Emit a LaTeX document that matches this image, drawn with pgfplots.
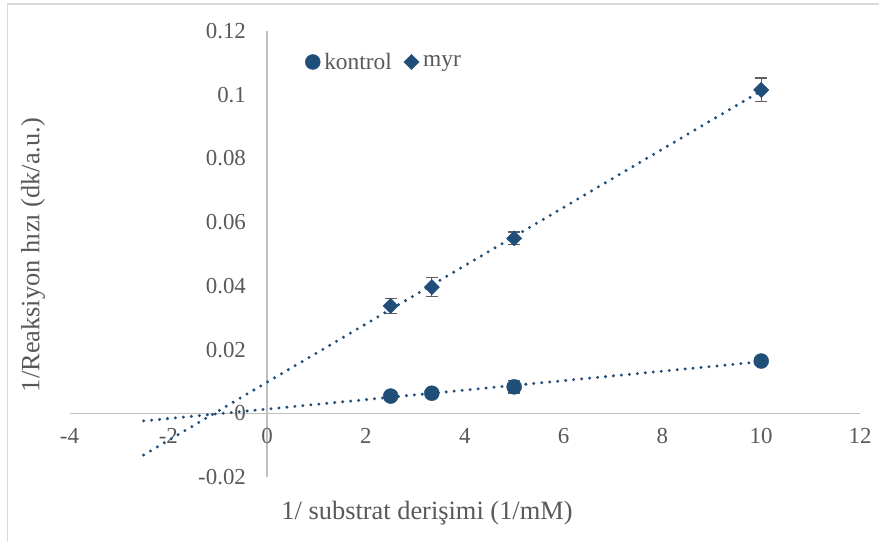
\documentclass[border=0pt]{standalone}
\usepackage{pgfplots}
\pgfplotsset{compat=1.18}
\usepackage{fontspec}
\setmainfont{Liberation Serif}
\definecolor{c1}{HTML}{1F4E79}
\definecolor{tg}{HTML}{595959}
\definecolor{ax}{HTML}{BFBFBF}
\definecolor{fr}{HTML}{D9D9D9}
\definecolor{eb}{HTML}{5F5F5F}
\begin{document}
\begin{tikzpicture}
\useasboundingbox (0,0) rectangle (879bp,542bp);
\draw[fr, line width=1.5bp] (7.5bp,0) -- (7.5bp,538bp) -- (879bp,538bp);
\begin{axis}[
 at={(69.5bp,65bp)}, anchor=south west, scale only axis, width=790.5bp, height=446bp,
 xmin=-4,xmax=12,ymin=-0.02,ymax=0.12,
 axis lines=middle, axis line style={ax, line width=1.3bp, -},
 xtick={-4,-2,0,2,4,6,8,10,12}, xticklabels={-4,-2,0,2,4,6,8,10,12},
 ytick={-0.02,0,0.02,0.04,0.06,0.08,0.1,0.12}, yticklabels={-0.02,0,0.02,0.04,0.06,0.08,0.1,0.12},
 major tick length=0pt,
 hide obscured x ticks=false, hide obscured y ticks=false,
 tick label style={font=\fontsize{23}{27}\selectfont, text=tg, inner sep=0pt},
 xticklabel style={anchor=north, yshift=-15bp},
 yticklabel style={anchor=east, xshift=-21bp},
 clip=false,
 legend columns=2,
 legend style={at={(axis description cs:0.298,0.9305)}, anchor=west, draw=none, fill=none, inner sep=0pt,
   font=\fontsize{23.5}{28}\selectfont, text=tg, nodes={inner ysep=2bp, inner xsep=4bp},
   /tikz/every even column/.append style={column sep=8bp}},
 legend image code/.code={\draw[mark repeat=2,mark phase=2,#1] plot coordinates {(0bp,0bp) (8bp,0bp) (16bp,0bp)};},
]
\addplot[c1, line width=3.3bp, dash pattern=on 0bp off 8bp, line cap=round, forget plot] coordinates {(-2.5,-0.0024) (10,0.0162)};
\addplot[c1, line width=3.3bp, dash pattern=on 0bp off 8bp, line cap=round, forget plot] coordinates {(-2.5,-0.0131) (10,0.1012)};
\addplot[only marks, mark=*, mark size=7.5bp, c1,
  error bars/.cd, y dir=both, y explicit,
  error bar style={eb, line width=1.3bp},
  error mark options={eb, rotate=90, mark size=6bp, line width=1.3bp}]
  coordinates {(2.5,0.0054) +- (0,0.0010) (3.333,0.0063) +- (0,0.0010) (5,0.0083) +- (0,0.0019) (10,0.0164) +- (0,0.0010)};
\addlegendentry{kontrol}
\addplot[only marks, mark=square*, mark options={rotate=45}, mark size=5.4bp, c1,
  error bars/.cd, y dir=both, y explicit,
  error bar style={eb, line width=1.3bp},
  error mark options={eb, rotate=90, mark size=6bp, line width=1.3bp}]
  coordinates {(2.5,0.0337) +- (0,0.0024) (3.333,0.0396) +- (0,0.0030) (5,0.0549) +- (0,0.0020) (10,0.1015) +- (0,0.0037)};
\addlegendentry{myr}
\end{axis}
\node[rotate=90, font=\fontsize{26.5}{31}\selectfont, text=tg] at (33bp,287bp) {1/Reaksiyon hızı (dk/a.u.)};
\node[font=\fontsize{26.5}{31}\selectfont, text=tg] at (427bp,29bp) {1/ substrat derişimi (1/mM)};
\end{tikzpicture}
\end{document}
